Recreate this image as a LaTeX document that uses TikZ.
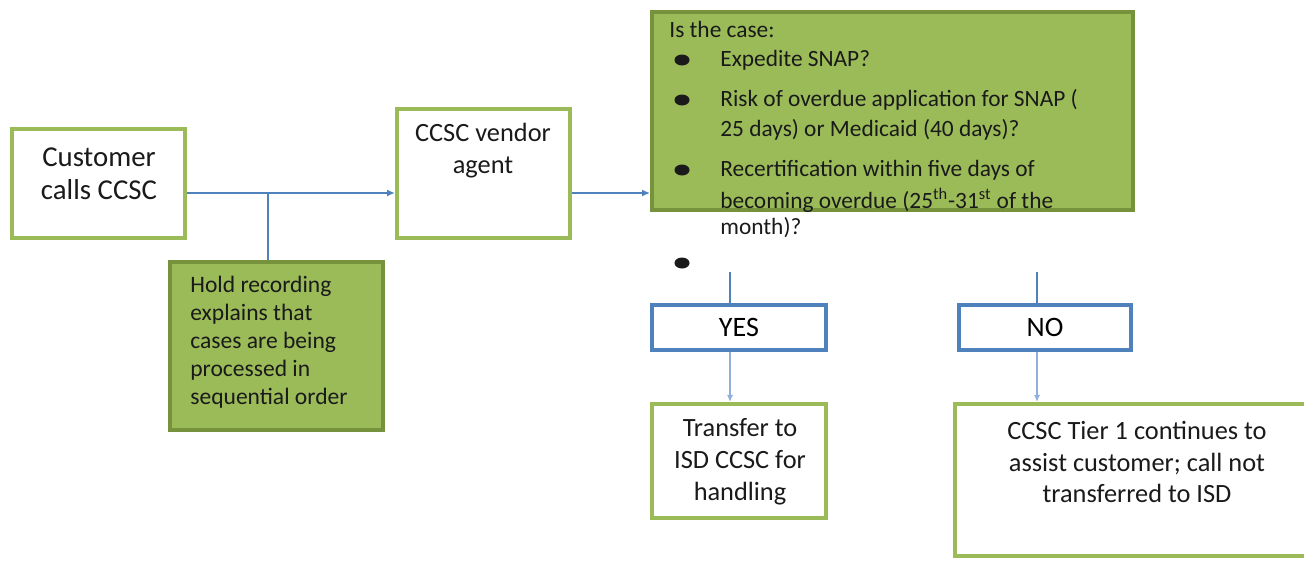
\documentclass[tikz,border=0pt]{standalone}
\usepackage{fontspec}
\setmainfont{Carlito}
\usepackage{tikz}
\usetikzlibrary{arrows.meta,calc}
\definecolor{leaf}{HTML}{9BBB59}
\definecolor{moss}{HTML}{76923C}
\definecolor{steel}{HTML}{4F81BD}
\definecolor{sky}{HTML}{8EB0DA}
\definecolor{ink}{HTML}{1A1A1A}

\begin{document}
\begin{tikzpicture}[
x=0.02cm,y=-0.02cm,
gbox/.style={draw=leaf,line width=2.3pt,fill=white,inner sep=0pt},
fbox/.style={draw=moss,line width=2.3pt,fill=leaf,inner sep=0pt},
bbox/.style={draw=steel,line width=2.5pt,fill=white,inner sep=0pt,font=\fontsize{16}{19}\selectfont},
txt/.style={inner sep=0pt,align=center,text=ink},
arr/.style={-{Latex[length=4.5pt,width=4pt]},line width=1.1pt,color=steel},
arrb/.style={-{Latex[length=4pt,width=3.5pt]},line width=0.9pt,color=sky},
ln/.style={line width=1.1pt,color=steel}
]
\useasboundingbox (0,0) rectangle (1304,562);
% boxes
\node[gbox,minimum width=3.46cm,minimum height=2.18cm] (cust) at (98.5,183.5) {};
\node[gbox,minimum width=3.46cm,minimum height=2.58cm] (vendor) at (483.5,173.5) {};
\node[fbox,minimum width=4.26cm,minimum height=3.36cm] (hold) at (276.5,346) {};
\node[fbox,minimum width=9.62cm,minimum height=3.96cm] (case) at (892.5,111) {};
\node[bbox,minimum width=3.48cm,minimum height=0.9cm] (yes) at (739,327.5) {YES};
\node[bbox,minimum width=3.44cm,minimum height=0.9cm] (no) at (1045,327.5) {NO};
\node[gbox,minimum width=3.48cm,minimum height=2.28cm] (transfer) at (739,461) {};
\node[gbox,minimum width=7.7cm,minimum height=3.04cm] (tier) at (1147,480) {};
% texts
\node[txt,font=\fontsize{16.4}{18.7}\selectfont] (custtxt) at (99,174) {Customer\\calls CCSC};
\node[txt,font=\fontsize{15}{18.1}\selectfont] (vendortxt) at (483,151) {CCSC vendor\\agent};
\node[txt,anchor=west,align=left,font=\fontsize{13.4}{15.9}\selectfont] (holdtxt) at (190,342)
  {Hold recording\\explains that\\cases are being\\processed in\\sequential order};
\node[txt,font=\fontsize{15}{18.1}\selectfont] (transfertxt) at (740,462) {Transfer to\\ISD CCSC for\\handling};
\node[txt,font=\fontsize{15}{18.1}\selectfont] (tiertxt) at (1137,462) {CCSC Tier 1 continues to\\assist customer; call not\\transferred to ISD};
% the case list
\node[txt,anchor=west,font=\fontsize{13.3}{16}\selectfont] (casehead) at (669,29) {Is the case:};
\foreach \yy/\tx [count=\i] in {60/{Expedite SNAP?},
  100/{Risk of overdue application for SNAP (},
  130/{25 days) or Medicaid (40 days)?},
  170/{Recertification within five days of},
  200/{becoming overdue (25\textsuperscript{th}-31\textsuperscript{st} of the},
  228/{month)?}}
  \node[txt,anchor=west,font=\fontsize{13.3}{16}\selectfont] (case\i) at (720,\yy) {\tx};
\foreach \yy in {60,100,170,263}
  \fill[ink] (682,\yy) ellipse (0.15cm and 0.11cm);
% connectors
\coordinate (j1) at (268,193);
\coordinate (j2) at (610,193);
\coordinate (ytop) at (730,272);
\coordinate (ntop) at (1037,272);
\draw[arr] (cust.east |- j1) -- (vendor.west |- j1);
\draw[ln] (j1) -- (j1 |- hold.north);
\draw[arr] (vendor.east |- j2) -- (case.west |- j2);
\draw[ln] (ytop) -- (ytop |- yes.north);
\draw[ln] (ntop) -- (ntop |- no.north);
\draw[arrb] (ytop |- yes.south) -- (ytop |- transfer.north);
\draw[arrb] (ntop |- no.south) -- (ntop |- tier.north);
\end{tikzpicture}
\end{document}
